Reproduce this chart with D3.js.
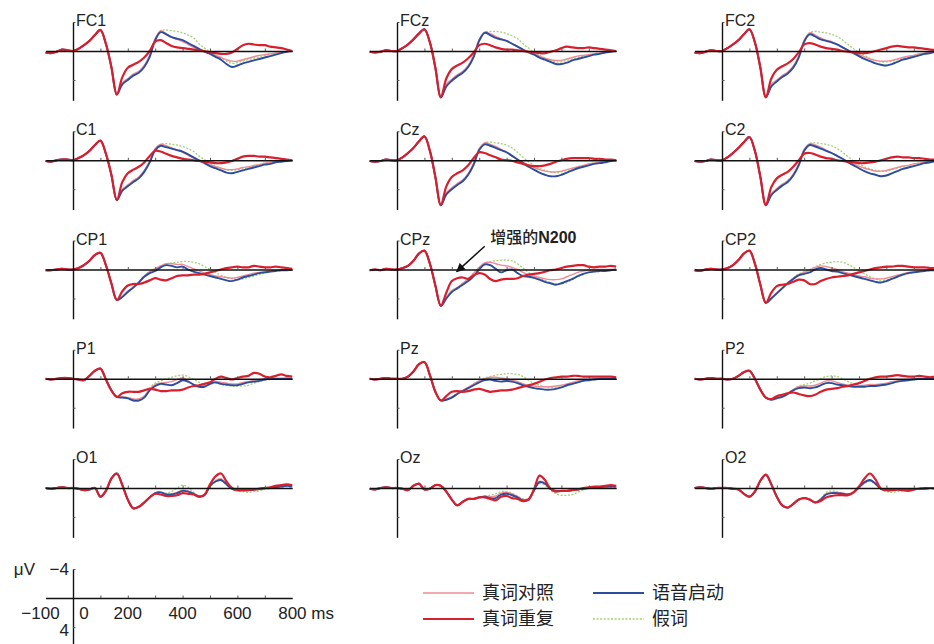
<!DOCTYPE html>
<html>
<head>
<meta charset="utf-8">
<script src="https://cdn.jsdelivr.net/npm/d3@7"></script>
<style>
  body { margin: 0; background: #fff; }
  svg text { font-family: "Liberation Sans", Arial, sans-serif; fill: #222; }
  svg .cjk { font-family: "Noto Sans CJK SC", sans-serif; }
</style>
</head>
<body>
<div id="graph"></div>
<script>
// sampling grid, ms
var times = [-100, -80, -60, -40, -20, 0, 20, 40, 60, 80, 100, 120, 140, 160,
  180, 200, 220, 240, 260, 280, 300, 320, 340, 360, 380, 400, 420, 440, 460, 480,
  500, 520, 540, 560, 580, 600, 620, 640, 660, 680, 700, 720, 740, 760, 780, 800];

var electrodes = ["FC1", "FCz", "FC2", "C1", "Cz", "C2", "CP1", "CPz", "CP2",
  "P1", "Pz", "P2", "O1", "Oz", "O2"];

// -100..160 ms, the part where the four conditions overlap (uV, negative up)
var onsetWaves = [
  [0.2, 0.3, 0.1, -0.2, -0.1, 0, -0.3, -0.8, -1.4, -2.2, -2.9, -1.0, 2.2, 6.0],
  [0.1, 0.2, 0.1, -0.1, 0.0, 0, -0.4, -0.9, -1.6, -2.4, -3.0, -1.2, 2.3, 6.4],
  [0.2, 0.3, 0.1, -0.1, 0.0, 0, -0.4, -0.9, -1.5, -2.3, -3.0, -1.2, 2.3, 6.4],
  [0.1, 0.2, 0.0, -0.1, -0.1, 0, -0.3, -0.7, -1.3, -2.1, -2.7, -0.9, 2.0, 5.5],
  [0.1, 0.2, 0.1, -0.1, 0.0, 0, -0.4, -1.0, -1.7, -2.6, -3.3, -1.3, 2.3, 6.2],
  [0.1, 0.2, 0.1, -0.1, 0.0, 0, -0.4, -1.0, -1.7, -2.5, -3.2, -1.3, 2.3, 6.2],
  [0.1, 0.1, 0.0, -0.1, 0.0, 0, -0.2, -0.6, -1.2, -2.0, -2.3, -0.6, 1.9, 4.2],
  [0.1, 0.0, 0.1, -0.1, 0.0, 0, -0.2, -0.5, -1.2, -2.2, -2.6, -0.8, 2.2, 5.0],
  [0.1, 0.2, 0.0, -0.1, 0.0, 0, -0.2, -0.6, -1.3, -2.2, -2.6, -0.8, 2.1, 4.6],
  [0.0, 0.1, 0.0, -0.1, -0.1, 0, 0.1, 0.2, -0.4, -1.1, -1.4, 0.1, 1.6, 2.5],
  [0.0, 0.1, 0.0, -0.1, 0.0, 0, 0.0, -0.3, -1.0, -2.0, -2.3, -0.5, 1.8, 3.0],
  [0.0, 0.1, 0.0, -0.1, 0.0, 0, 0.1, 0.0, -0.4, -0.9, -1.1, 0.0, 1.5, 2.6],
  [0.0, 0.1, 0.0, -0.1, 0.0, 0, 0.1, 0.3, 0.2, 0.0, 1.2, 0.4, -1.3, -2.0],
  [0.1, 0.2, 0.0, -0.1, 0.0, 0, 0.1, 0.3, -0.3, -0.6, 0.2, 0.1, -0.4, -0.3],
  [0.0, -0.1, 0.0, 0.1, 0.0, 0, 0.0, 0.1, 0.2, 0.8, 1.2, 0.5, -1.0, -1.85]
];

// 180..800 ms for each condition, one row per electrode
var controlWaves = [ // 真词对照
  [4.4, 3.8, 3.2, 2.8, 2.0, 0.6, -1.7, -2.8, -2.4, -1.9, -1.6, -1.3, -0.9, -0.5, -0.2, 0.1, 0.3, 0.6, 0.9, 1.2, 1.4, 1.4, 1.2, 1.0, 0.8, 0.6, 0.5, 0.4, 0.3, 0.2, 0.1, 0],
  [4.6, 3.9, 3.3, 2.8, 2.0, 0.6, -1.6, -2.6, -2.4, -2.0, -1.7, -1.4, -1.0, -0.6, -0.2, 0.1, 0.4, 0.7, 1.0, 1.2, 1.3, 1.3, 1.1, 0.9, 0.7, 0.6, 0.5, 0.4, 0.3, 0.2, 0.1, 0],
  [4.6, 4.0, 3.4, 2.9, 2.1, 0.7, -1.5, -2.5, -2.2, -1.8, -1.5, -1.3, -0.9, -0.5, -0.1, 0.2, 0.5, 0.8, 1.1, 1.3, 1.4, 1.4, 1.3, 1.1, 0.9, 0.7, 0.6, 0.4, 0.3, 0.2, 0.1, 0],
  [4.0, 3.4, 2.8, 2.3, 1.4, 0.1, -1.6, -2.2, -2.0, -1.7, -1.4, -1.1, -0.7, -0.3, 0.0, 0.3, 0.6, 0.9, 1.1, 1.3, 1.3, 1.2, 1.0, 0.9, 0.7, 0.6, 0.4, 0.3, 0.2, 0.1, 0.1, 0],
  [4.5, 3.8, 3.2, 2.7, 1.8, 0.4, -1.6, -2.4, -2.2, -1.9, -1.5, -1.1, -0.6, -0.1, 0.3, 0.7, 1.0, 1.3, 1.5, 1.6, 1.6, 1.5, 1.3, 1.1, 0.9, 0.7, 0.5, 0.4, 0.3, 0.2, 0.1, 0],
  [4.6, 3.9, 3.3, 2.8, 1.9, 0.5, -1.5, -2.3, -2.1, -1.8, -1.4, -1.0, -0.6, -0.2, 0.2, 0.5, 0.8, 1.1, 1.3, 1.5, 1.5, 1.4, 1.2, 1.0, 0.8, 0.7, 0.5, 0.4, 0.3, 0.2, 0.1, 0],
  [3.7, 3.0, 2.4, 1.7, 0.9, 0.3, -0.1, -0.5, -0.8, -0.8, -0.7, -0.7, -0.4, -0.1, 0.2, 0.5, 0.7, 0.9, 1.0, 1.1, 1.2, 1.1, 0.9, 0.7, 0.5, 0.4, 0.3, 0.2, 0.1, 0.1, 0.0, 0],
  [3.9, 2.9, 2.5, 1.9, 1.3, 0.5, -0.3, -0.9, -1.0, -0.8, -0.6, -0.5, -0.3, 0.0, 0.4, 0.7, 0.9, 1.1, 1.3, 1.4, 1.4, 1.3, 1.0, 0.7, 0.4, 0.2, 0.1, 0.0, 0.0, 0.0, 0.0, 0],
  [3.9, 3.2, 2.5, 1.8, 1.2, 0.7, 0.4, 0.1, -0.3, -0.5, -0.4, -0.2, 0.0, 0.3, 0.5, 0.7, 0.9, 1.0, 1.2, 1.3, 1.3, 1.2, 1.0, 0.8, 0.6, 0.4, 0.3, 0.2, 0.1, 0.1, 0.0, 0],
  [2.5, 2.6, 2.8, 2.8, 2.4, 1.4, 0.8, 0.6, 0.5, 0.4, 0.1, -0.1, 0.3, 0.8, 1.0, 1.0, 0.7, 0.4, 0.5, 0.6, 0.7, 0.7, 0.5, 0.4, 0.2, 0.1, 0.0, -0.1, 0.0, 0.0, -0.1, 0],
  [2.8, 2.5, 2.0, 1.6, 1.2, 0.7, 0.3, 0.0, -0.2, -0.2, -0.1, 0.0, 0.2, 0.4, 0.7, 0.9, 1.0, 1.1, 1.1, 1.1, 1.0, 0.9, 0.7, 0.5, 0.3, 0.2, 0.1, 0.0, 0.0, 0.0, 0.0, 0],
  [2.8, 2.6, 2.4, 2.0, 1.5, 1.1, 1.0, 1.0, 0.9, 0.6, 0.3, 0.3, 0.5, 0.7, 0.9, 1.0, 1.0, 0.9, 0.8, 0.8, 0.7, 0.6, 0.4, 0.3, 0.2, 0.1, 0.0, 0.0, 0.0, 0.0, 0.0, 0],
  [-0.4, 1.6, 2.8, 2.6, 2.0, 1.3, 0.7, 0.6, 0.8, 0.8, 0.6, 0.3, 0.4, 0.7, 1.1, 1.0, -0.3, -1.0, -1.3, -0.6, 0.1, 0.3, 0.3, 0.3, 0.3, 0.2, 0.1, 0.0, -0.2, -0.3, -0.4, -0.3],
  [0.5, 1.6, 2.4, 1.9, 1.5, 1.5, 1.3, 1.1, 1.2, 1.1, 0.7, 0.6, 0.8, 1.2, 1.6, 1.5, 0.3, -0.9, -0.7, 0.1, 0.4, 0.4, 0.4, 0.3, 0.2, 0.1, 0.0, 0.0, -0.1, -0.1, -0.2, -0.2],
  [-0.5, 1.2, 2.4, 2.7, 2.2, 1.6, 1.4, 1.6, 2.0, 1.6, 0.8, 0.6, 0.6, 0.7, 0.8, 0.6, -0.1, -0.7, -1.0, -0.6, 0.1, 0.3, 0.3, 0.2, 0.3, 0.3, 0.2, 0.1, 0.1, 0.0, 0.0, 0]
];

var repeatWaves = [ // 真词重复
  [3.6, 2.3, 1.9, 1.5, 0.9, 0.0, -1.3, -1.5, -1.1, -0.7, -0.5, -0.4, -0.3, -0.2, -0.1, 0.0, 0.2, 0.3, 0.4, 0.4, 0.2, -0.3, -0.8, -1.0, -0.9, -0.8, -0.8, -0.6, -0.5, -0.4, -0.2, 0],
  [3.8, 2.5, 2.0, 1.6, 1.0, 0.2, -0.8, -1.0, -0.8, -0.5, -0.3, -0.2, -0.2, -0.1, 0.0, 0.1, 0.2, 0.3, 0.3, 0.1, -0.1, -0.4, -0.6, -0.5, -0.4, -0.4, -0.5, -0.4, -0.3, -0.2, -0.1, 0],
  [3.8, 2.6, 2.1, 1.7, 1.1, 0.2, -0.9, -1.1, -0.9, -0.6, -0.4, -0.3, -0.2, 0.0, 0.1, 0.2, 0.3, 0.3, 0.2, 0.0, -0.2, -0.4, -0.6, -0.7, -0.6, -0.5, -0.5, -0.4, -0.3, -0.2, -0.1, 0],
  [3.0, 1.8, 1.3, 0.9, 0.3, -0.6, -1.3, -1.2, -0.9, -0.6, -0.4, -0.2, -0.1, 0.0, 0.1, 0.2, 0.3, 0.4, 0.4, 0.3, 0.1, -0.2, -0.5, -0.6, -0.6, -0.5, -0.5, -0.4, -0.3, -0.2, -0.1, 0],
  [3.6, 2.3, 1.8, 1.4, 0.7, -0.3, -1.1, -1.0, -0.7, -0.4, -0.1, 0.0, 0.1, 0.3, 0.5, 0.7, 0.8, 0.8, 0.7, 0.5, 0.2, 0.0, -0.2, -0.3, -0.3, -0.3, -0.3, -0.2, -0.2, -0.1, -0.1, 0],
  [3.7, 2.5, 2.0, 1.6, 0.9, 0.0, -0.9, -1.0, -0.8, -0.5, -0.3, -0.2, 0.0, 0.1, 0.2, 0.3, 0.4, 0.4, 0.3, 0.2, 0.0, -0.2, -0.4, -0.5, -0.4, -0.4, -0.3, -0.3, -0.2, -0.1, -0.1, 0],
  [3.0, 2.2, 2.0, 2.0, 1.8, 1.5, 1.2, 1.4, 1.5, 1.2, 0.9, 0.8, 0.8, 0.7, 0.7, 0.6, 0.4, 0.2, 0.0, -0.2, -0.3, -0.4, -0.3, -0.3, -0.5, -0.4, -0.3, -0.3, -0.4, -0.3, -0.2, -0.1],
  [3.2, 1.6, 1.2, 1.1, 1.3, 0.8, 0.5, 0.7, 1.3, 1.6, 1.4, 1.3, 1.3, 1.2, 0.9, 0.7, 0.6, 0.5, 0.3, 0.1, 0.0, -0.2, -0.4, -0.5, -0.6, -0.6, -0.4, -0.3, -0.4, -0.4, -0.5, -0.4],
  [3.2, 2.3, 2.1, 2.0, 1.7, 1.4, 1.5, 2.0, 2.0, 1.6, 1.3, 1.1, 1.0, 0.9, 0.8, 0.6, 0.4, 0.2, 0.0, -0.2, -0.3, -0.4, -0.4, -0.5, -0.5, -0.4, -0.3, -0.3, -0.3, -0.2, -0.2, -0.1],
  [2.0, 1.8, 1.8, 1.8, 1.6, 1.4, 1.5, 1.7, 1.7, 1.6, 1.6, 1.5, 1.2, 1.0, 0.9, 0.7, 0.5, 0.0, -0.3, -0.1, 0.1, -0.1, -0.3, -0.4, -0.8, -0.7, -0.3, -0.2, -0.4, -0.6, -0.4, -0.3],
  [2.4, 1.8, 1.7, 1.8, 1.7, 1.5, 1.4, 1.6, 1.8, 1.7, 1.6, 1.6, 1.5, 1.3, 1.1, 0.9, 0.7, 0.4, 0.1, -0.1, -0.2, -0.3, -0.3, -0.4, -0.4, -0.3, -0.3, -0.3, -0.3, -0.3, -0.3, -0.2],
  [2.8, 2.4, 2.2, 2.0, 1.9, 2.1, 2.3, 2.4, 2.2, 1.8, 1.5, 1.4, 1.3, 1.1, 1.0, 0.8, 0.6, 0.3, 0.0, -0.2, -0.3, -0.3, -0.4, -0.5, -0.4, -0.3, -0.3, -0.4, -0.3, -0.2, -0.3, -0.2],
  [-0.4, 1.6, 2.8, 2.6, 2.0, 1.3, 0.8, 0.9, 1.1, 1.1, 1.0, 0.7, 0.8, 0.9, 1.2, 0.9, -0.5, -1.6, -2.0, -0.9, 0.0, 0.3, 0.3, 0.3, 0.2, 0.1, 0.0, -0.1, -0.3, -0.4, -0.5, -0.4],
  [0.5, 1.6, 2.4, 1.9, 1.5, 1.5, 1.3, 1.3, 1.5, 1.7, 1.2, 1.1, 1.4, 1.5, 1.8, 1.6, 0.2, -1.7, -1.1, 0.1, 0.5, 0.4, 0.4, 0.3, 0.2, 0.0, -0.1, -0.2, -0.2, -0.3, -0.4, -0.3],
  [-0.5, 1.2, 2.4, 2.7, 2.2, 1.6, 1.4, 1.6, 2.0, 1.8, 1.3, 1.1, 1.0, 1.0, 1.0, 0.6, -0.2, -1.3, -2.0, -1.2, 0.1, 0.3, 0.3, 0.2, 0.3, 0.4, 0.2, 0.1, 0.1, 0.0, 0.1, 0.1]
];

var semanticWaves = [ // 语音启动
  [4.6, 4.0, 3.4, 3.0, 2.2, 0.8, -1.5, -2.6, -2.3, -1.9, -1.7, -1.5, -1.1, -0.7, -0.3, 0.1, 0.4, 0.8, 1.2, 1.8, 2.2, 2.0, 1.7, 1.5, 1.3, 1.1, 0.9, 0.7, 0.5, 0.3, 0.1, 0],
  [4.9, 4.1, 3.5, 3.0, 2.2, 0.8, -1.4, -2.5, -2.2, -1.8, -1.6, -1.4, -1.0, -0.6, -0.2, 0.2, 0.5, 0.9, 1.2, 1.5, 1.8, 1.8, 1.6, 1.3, 1.1, 0.9, 0.7, 0.5, 0.4, 0.2, 0.1, 0],
  [4.9, 4.2, 3.6, 3.1, 2.3, 0.9, -1.3, -2.3, -2.0, -1.6, -1.4, -1.2, -0.9, -0.5, -0.1, 0.3, 0.7, 1.1, 1.4, 1.7, 1.9, 2.0, 1.8, 1.5, 1.2, 1.0, 0.8, 0.6, 0.4, 0.3, 0.1, 0],
  [4.2, 3.6, 3.0, 2.5, 1.6, 0.3, -1.4, -2.0, -1.8, -1.6, -1.4, -1.2, -0.8, -0.4, 0.0, 0.4, 0.8, 1.1, 1.4, 1.7, 1.8, 1.6, 1.4, 1.2, 1.0, 0.8, 0.6, 0.5, 0.3, 0.2, 0.1, 0],
  [4.7, 4.0, 3.4, 2.9, 2.0, 0.6, -1.4, -2.2, -2.0, -1.7, -1.4, -1.1, -0.6, -0.1, 0.4, 0.9, 1.3, 1.7, 2.0, 2.2, 2.2, 2.0, 1.7, 1.4, 1.1, 0.9, 0.7, 0.5, 0.4, 0.3, 0.1, 0],
  [4.8, 4.1, 3.5, 3.0, 2.1, 0.7, -1.3, -2.1, -1.9, -1.6, -1.3, -1.0, -0.6, -0.2, 0.3, 0.7, 1.1, 1.5, 1.8, 2.0, 2.2, 2.1, 1.8, 1.5, 1.2, 1.0, 0.8, 0.6, 0.4, 0.3, 0.1, 0],
  [3.8, 3.1, 2.5, 1.8, 1.0, 0.5, 0.2, -0.3, -0.6, -0.5, -0.3, -0.4, 0.0, 0.3, 0.5, 0.7, 0.9, 1.1, 1.3, 1.5, 1.6, 1.4, 1.1, 0.9, 0.7, 0.5, 0.4, 0.3, 0.2, 0.1, 0.1, 0],
  [4.0, 3.1, 2.6, 2.1, 1.6, 0.9, 0.0, -0.7, -0.6, -0.1, 0.4, 0.1, 0.0, 0.5, 0.9, 1.0, 1.15, 1.4, 1.7, 1.9, 2.1, 1.9, 1.6, 1.3, 0.9, 0.6, 0.4, 0.3, 0.2, 0.2, 0.1, 0],
  [4.0, 3.3, 2.6, 1.9, 1.3, 0.8, 0.6, 0.4, 0.0, -0.2, 0.0, 0.2, 0.3, 0.5, 0.7, 0.9, 1.1, 1.3, 1.5, 1.7, 1.8, 1.6, 1.3, 1.0, 0.7, 0.5, 0.4, 0.3, 0.2, 0.1, 0.1, 0],
  [2.6, 2.7, 3.0, 3.0, 2.6, 1.6, 1.0, 0.7, 0.8, 0.9, 0.6, 0.2, 0.4, 0.8, 1.1, 1.1, 0.7, 0.5, 0.7, 0.8, 0.9, 0.9, 0.7, 0.5, 0.4, 0.3, 0.1, 0.0, 0.0, 0.0, 0.0, 0],
  [2.9, 2.6, 2.1, 1.7, 1.3, 0.9, 0.5, 0.2, 0.1, 0.3, 0.4, 0.3, 0.4, 0.6, 0.9, 1.1, 1.3, 1.4, 1.5, 1.5, 1.4, 1.2, 0.9, 0.7, 0.5, 0.3, 0.2, 0.1, 0.0, 0.0, 0.0, 0],
  [2.9, 2.7, 2.5, 2.1, 1.6, 1.3, 1.2, 1.3, 1.2, 0.9, 0.6, 0.6, 0.8, 0.9, 1.0, 1.1, 1.1, 1.1, 1.0, 1.0, 0.9, 0.8, 0.6, 0.4, 0.3, 0.2, 0.1, 0.0, 0.0, 0.0, 0.0, 0],
  [-0.4, 1.6, 2.8, 2.6, 2.0, 1.3, 0.7, 0.6, 0.9, 0.9, 0.7, 0.4, 0.5, 0.8, 1.2, 1.0, -0.3, -0.9, -1.1, -0.5, 0.1, 0.3, 0.3, 0.3, 0.2, 0.1, 0.0, 0.0, -0.1, -0.2, -0.3, -0.2],
  [0.5, 1.6, 2.4, 1.9, 1.5, 1.5, 1.3, 1.2, 1.4, 1.4, 0.9, 0.8, 1.0, 1.3, 1.7, 1.6, 0.3, -0.8, -0.6, 0.1, 0.4, 0.4, 0.4, 0.3, 0.2, 0.1, 0.0, -0.1, -0.1, -0.2, -0.2, -0.2],
  [-0.5, 1.2, 2.4, 2.7, 2.2, 1.6, 1.4, 1.6, 2.0, 1.6, 0.9, 0.7, 0.7, 0.8, 0.9, 0.6, -0.1, -0.8, -1.1, -0.6, 0.1, 0.3, 0.3, 0.2, 0.3, 0.3, 0.2, 0.1, 0.0, 0.0, 0.0, 0]
];

var pseudoWaves = [ // 假词
  [4.5, 3.9, 3.3, 2.9, 2.1, 0.7, -1.6, -2.8, -2.9, -2.8, -2.7, -2.5, -2.2, -1.8, -1.0, -0.4, 0.1, 0.6, 1.0, 1.4, 1.7, 1.6, 1.4, 1.2, 1.0, 0.8, 0.6, 0.4, 0.3, 0.2, 0.1, 0],
  [4.7, 4.0, 3.4, 2.9, 2.1, 0.7, -1.5, -2.6, -2.7, -2.7, -2.6, -2.4, -2.1, -1.7, -1.0, -0.4, 0.2, 0.6, 1.0, 1.3, 1.5, 1.5, 1.3, 1.1, 0.9, 0.7, 0.6, 0.4, 0.3, 0.2, 0.1, 0],
  [4.7, 4.1, 3.5, 3.0, 2.2, 0.8, -1.4, -2.5, -2.7, -2.6, -2.5, -2.3, -2.0, -1.5, -0.9, -0.3, 0.2, 0.6, 1.0, 1.3, 1.5, 1.5, 1.4, 1.2, 1.0, 0.8, 0.6, 0.4, 0.3, 0.2, 0.1, 0],
  [4.1, 3.5, 2.9, 2.4, 1.5, 0.2, -1.5, -2.2, -2.3, -2.2, -2.1, -1.9, -1.6, -1.2, -0.6, -0.1, 0.4, 0.8, 1.1, 1.3, 1.4, 1.3, 1.2, 1.0, 0.8, 0.6, 0.4, 0.3, 0.2, 0.1, 0.1, 0],
  [4.6, 3.9, 3.3, 2.8, 1.9, 0.5, -1.5, -2.4, -2.5, -2.4, -2.3, -2.1, -1.7, -1.1, -0.4, 0.2, 0.7, 1.1, 1.4, 1.6, 1.7, 1.6, 1.4, 1.2, 0.9, 0.7, 0.5, 0.4, 0.3, 0.2, 0.1, 0],
  [4.7, 4.0, 3.4, 2.9, 2.0, 0.6, -1.4, -2.3, -2.4, -2.3, -2.2, -2.0, -1.6, -1.1, -0.5, 0.1, 0.5, 0.9, 1.2, 1.4, 1.5, 1.5, 1.3, 1.1, 0.9, 0.7, 0.5, 0.4, 0.3, 0.2, 0.1, 0],
  [3.7, 3.0, 2.4, 1.7, 0.9, 0.3, -0.1, -0.5, -0.7, -0.9, -1.0, -1.1, -1.1, -1.0, -0.8, -0.4, 0.0, 0.4, 0.8, 1.1, 1.3, 1.4, 1.3, 1.1, 0.9, 0.7, 0.5, 0.3, 0.2, 0.1, 0.1, 0],
  [3.9, 2.9, 2.5, 1.9, 1.3, 0.5, -0.3, -0.9, -1.1, -1.2, -1.3, -1.3, -1.2, -0.8, -0.2, 0.4, 0.9, 1.2, 1.5, 1.8, 2.0, 2.0, 1.8, 1.4, 1.0, 0.7, 0.4, 0.2, 0.1, 0.1, 0.0, 0],
  [3.9, 3.2, 2.5, 1.8, 1.2, 0.6, 0.3, 0.0, -0.4, -0.7, -0.9, -1.0, -1.1, -1.0, -0.7, -0.3, 0.2, 0.6, 1.0, 1.3, 1.5, 1.5, 1.3, 1.0, 0.8, 0.6, 0.4, 0.3, 0.2, 0.1, 0.1, 0],
  [2.5, 2.6, 2.8, 2.8, 2.4, 1.3, 0.6, 0.3, 0.0, -0.2, -0.4, -0.5, -0.3, 0.1, 0.5, 0.9, 0.8, 0.6, 0.8, 0.9, 1.0, 1.0, 1.0, 0.9, 0.6, 0.4, 0.2, 0.1, 0.0, 0.0, 0.0, 0],
  [2.8, 2.5, 2.0, 1.6, 1.2, 0.7, 0.3, -0.1, -0.3, -0.5, -0.6, -0.7, -0.7, -0.6, -0.3, 0.2, 0.6, 0.9, 1.1, 1.2, 1.2, 1.1, 0.9, 0.7, 0.5, 0.3, 0.2, 0.1, 0.0, 0.0, 0.0, 0],
  [2.8, 2.6, 2.4, 2.0, 1.5, 1.0, 0.8, 0.6, 0.3, 0.0, -0.3, -0.4, -0.3, 0.0, 0.4, 0.7, 0.9, 1.0, 1.0, 1.0, 0.9, 0.8, 0.6, 0.4, 0.3, 0.2, 0.1, 0.0, 0.0, 0.0, 0.0, 0],
  [-0.4, 1.6, 2.8, 2.6, 2.0, 1.3, 0.7, 0.6, 0.7, 0.5, 0.0, -0.4, -0.1, 0.6, 1.1, 1.0, -0.2, -0.8, -1.0, -0.4, 0.2, 0.4, 0.5, 0.6, 0.5, 0.4, 0.2, 0.1, 0.0, -0.1, -0.2, -0.1],
  [0.5, 1.6, 2.4, 1.9, 1.5, 1.5, 1.3, 1.1, 1.0, 0.8, 0.5, 0.5, 0.7, 1.1, 1.5, 1.5, 0.4, -0.6, -0.4, 0.3, 0.8, 1.0, 1.0, 0.9, 0.6, 0.3, 0.1, 0.0, -0.1, -0.1, -0.1, -0.1],
  [-0.5, 1.2, 2.4, 2.7, 2.2, 1.6, 1.4, 1.6, 2.0, 1.5, 0.6, 0.4, 0.5, 0.7, 0.8, 0.6, 0.0, -0.6, -0.9, -0.5, 0.2, 0.5, 0.6, 0.5, 0.4, 0.3, 0.2, 0.1, 0.1, 0.0, 0.0, 0]
];

var xTicks = [100, 200, 300, 400, 500, 600, 700];
var xLabels = [-100, 0, 200, 400, 600, 800];
var yTicks = [-4, 4];

// drawing order: dotted first, thick red last
var conditions = [
  {name: "假词", waves: pseudoWaves, color: "#a3cf74", width: 1.3, dash: "2,1.6"},
  {name: "真词对照", waves: controlWaves, color: "#ee8c93", width: 1.4, dash: null},
  {name: "语音启动", waves: semanticWaves, color: "#2c4c9c", width: 1.9, dash: null},
  {name: "真词重复", waves: repeatWaves, color: "#d81f2d", width: 2.2, dash: null}
];

var W = 934, H = 644;
var colZero = [73, 397, 722];             // x of t = 0 in each column
var rowBase = [51, 160.25, 269.5, 378.75, 488];
var msPx = 0.274, uvPx = 7.25;

var svg = d3.select("#graph").append("svg")
  .attr("width", W)
  .attr("height", H);

svg.append("defs").append("marker")
  .attr("id", "head")
  .attr("viewBox", "0 0 10 10")
  .attr("refX", 9).attr("refY", 5)
  .attr("markerUnits", "userSpaceOnUse")
  .attr("markerWidth", 10).attr("markerHeight", 9)
  .attr("orient", "auto")
  .append("path").attr("d", "M0,0 L10,5 L0,10 z").attr("fill", "#111");

function scales(cx, by) {
  var x = d3.scaleLinear().domain([-100, 800]).range([cx - 100 * msPx, cx + 800 * msPx]);
  var y = d3.scaleLinear().domain([-4, 6.8]).range([by - 4 * uvPx, by + 6.8 * uvPx]);
  return {x: x, y: y};
}

function drawAxes(g, s) {
  // baseline with small ticks
  g.append("g")
    .attr("transform", "translate(0," + s.y(0) + ")")
    .call(d3.axisBottom(s.x).tickValues(xTicks).tickSize(-2.5).tickSizeOuter(0).tickFormat(""))
    .call(function (a) {
      a.select(".domain").attr("stroke", "#111").attr("stroke-width", 1.4);
      a.selectAll(".tick line").attr("stroke", "#555");
    });
  // voltage axis at t = 0
  g.append("g")
    .attr("transform", "translate(" + s.x(0) + ",0)")
    .call(d3.axisRight(s.y).tickValues(yTicks).tickSize(2.5).tickSizeOuter(0).tickFormat(""))
    .call(function (a) {
      a.select(".domain").attr("stroke", "#111").attr("stroke-width", 1.4);
      a.selectAll(".tick line").attr("stroke", "#555");
    });
}

// panels
electrodes.forEach(function (name, i) {
  var s = scales(colZero[i % 3], rowBase[Math.floor(i / 3)]);
  var g = svg.append("g").attr("class", "panel");

  var line = d3.line()
    .x(function (d, k) { return s.x(times[k]); })
    .y(function (d) { return s.y(d); })
    .curve(d3.curveCatmullRom.alpha(0.5));

  conditions.forEach(function (c) {
    var vals = onsetWaves[i].concat(c.waves[i]);
    g.append("path")
      .datum(vals)
      .attr("d", line)
      .attr("fill", "none")
      .attr("stroke", c.color)
      .attr("stroke-width", c.width)
      .attr("stroke-dasharray", c.dash)
      .attr("stroke-linejoin", "round");
  });

  drawAxes(g, s);

  g.append("text")
    .attr("x", s.x(0) + 3)
    .attr("y", s.y(0) - 25)
    .attr("font-size", 16)
    .text(name);
});

// annotation on CPz
var cpz = scales(colZero[1], rowBase[2]);
svg.append("line")
  .attr("x1", cpz.x(320)).attr("y1", cpz.y(-3.2))
  .attr("x2", cpz.x(218)).attr("y2", cpz.y(0.3))
  .attr("stroke", "#111").attr("stroke-width", 1.5)
  .attr("marker-end", "url(#head)");
var ann = svg.append("text")
  .attr("x", cpz.x(340)).attr("y", cpz.y(-3.6))
  .attr("font-size", 16);
ann.append("tspan").attr("class", "cjk").attr("font-weight", 500).text("增强的");
ann.append("tspan").attr("font-weight", "bold").text("N200");

// scale bar
var sb = scales(73, 598);
var gs = svg.append("g");
drawAxes(gs, sb);
gs.selectAll(".xl")
  .data(xLabels)
  .enter().append("text")
  .attr("x", function (d) {
    if (d === 0) return sb.x(d) + 11;
    if (d === -100) return sb.x(d) + 14;
    if (d === 800) return sb.x(d) - 14;
    return sb.x(d);
  })
  .attr("y", sb.y(0) + 21)
  .attr("font-size", 17)
  .attr("text-anchor", function (d) { return d === 800 ? "start" : d === -100 ? "end" : "middle"; })
  .text(function (d) { return d < 0 ? "\u2212" + Math.abs(d) : d === 800 ? d + " ms" : d; });
gs.selectAll(".yl")
  .data(yTicks)
  .enter().append("text")
  .attr("x", sb.x(0) - 4)
  .attr("y", function (d) { return d < 0 ? sb.y(d) + 6 : sb.y(d) + 9; })
  .attr("font-size", 17)
  .attr("text-anchor", "end")
  .text(function (d) { return d < 0 ? "\u2212" + Math.abs(d) : d; });
gs.append("text")
  .attr("x", sb.x(0) - 38)
  .attr("y", sb.y(-4) + 6)
  .attr("font-size", 17)
  .attr("text-anchor", "end")
  .text("\u03bcV");

// legend
var legendItems = [
  {cond: conditions[1], col: 0, row: 0},
  {cond: conditions[3], col: 0, row: 1},
  {cond: conditions[2], col: 1, row: 0},
  {cond: conditions[0], col: 1, row: 1}
];
var lg = svg.append("g").attr("transform", "translate(423,593)");
legendItems.forEach(function (it) {
  var ox = it.col * 170, oy = it.row * 26;
  lg.append("line")
    .attr("x1", ox).attr("x2", ox + 51)
    .attr("y1", oy).attr("y2", oy)
    .attr("stroke", it.cond.color)
    .attr("stroke-width", Math.min(it.cond.width, 1.8))
    .attr("stroke-dasharray", it.cond.dash);
  lg.append("text")
    .attr("class", "cjk")
    .attr("x", ox + 59).attr("y", oy)
    .attr("dy", "0.36em")
    .attr("font-size", 18)
    .attr("fill", "#333")
    .text(it.cond.name);
});
</script>
</body>
</html>
